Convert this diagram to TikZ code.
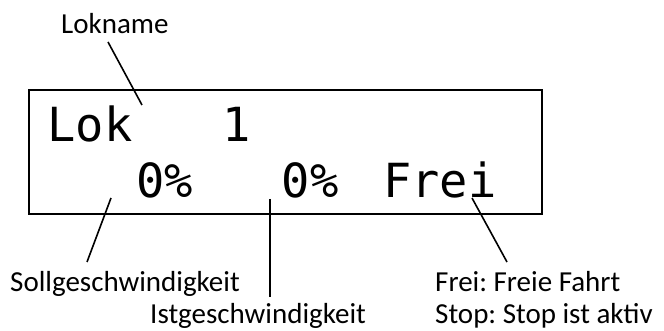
\documentclass[tikz,border=0pt]{standalone}
\usepackage{fontspec}
\setmainfont{Carlito}
\newfontfamily\lcdfont{DejaVu Sans Mono}
\frenchspacing
\begin{document}
\begin{tikzpicture}[x=1pt,y=-1pt,
  lbl/.style={inner sep=0pt, anchor=base west, font=\frenchspacing\fontsize{29}{35}\selectfont},
  lcd/.style={inner sep=0pt, anchor=base, font=\lcdfont\fontsize{47}{50}\selectfont},
  conn/.style={line width=1.6pt},
  frame/.style={draw, line width=2.5pt, inner sep=0pt, minimum width=513pt, minimum height=124pt}]
\useasboundingbox (0,0) rectangle (664,331);
\fill[white] (0,0) rectangle (664,331);
% display
\node[frame] (display) at (285.5,152) {};
\node[lcd] (lok) at (90,142) {Lok};
\node[lcd] (num) at (237,142) {1};
\node[lcd] (soll) at (165,198) {0\%};
\node[lcd] (ist) at (310,198) {0\%};
\node[lcd] (frei) at (440,198) {Frei};
% labels
\node[lbl] (lokname) at (61,34) {Lokname};
\node[lbl] (solllbl) at (10,291) {Sollgeschwindigkeit};
\node[lbl] (istlbl) at (150,323) {Istgeschwindigkeit};
\node[lbl] (freilbl) at (435,291) {Frei: Freie Fahrt};
\node[lbl] (stoplbl) at (435,323) {Stop: Stop ist aktiv};
% connector end points
\coordinate (a1) at (108,42);
\coordinate (a2) at (142,105);
\coordinate (b1) at (111,198);
\coordinate (b2) at (87,262);
\coordinate (c1) at (270,199);
\coordinate (c2) at (270,297);
\coordinate (d1) at (472,198);
\coordinate (d2) at (507,262);
\draw[conn] (a1) -- (a2);
\draw[conn] (b1) -- (b2);
\draw[conn] (c1) -- (c2);
\draw[conn] (d1) -- (d2);
\end{tikzpicture}
\end{document}
